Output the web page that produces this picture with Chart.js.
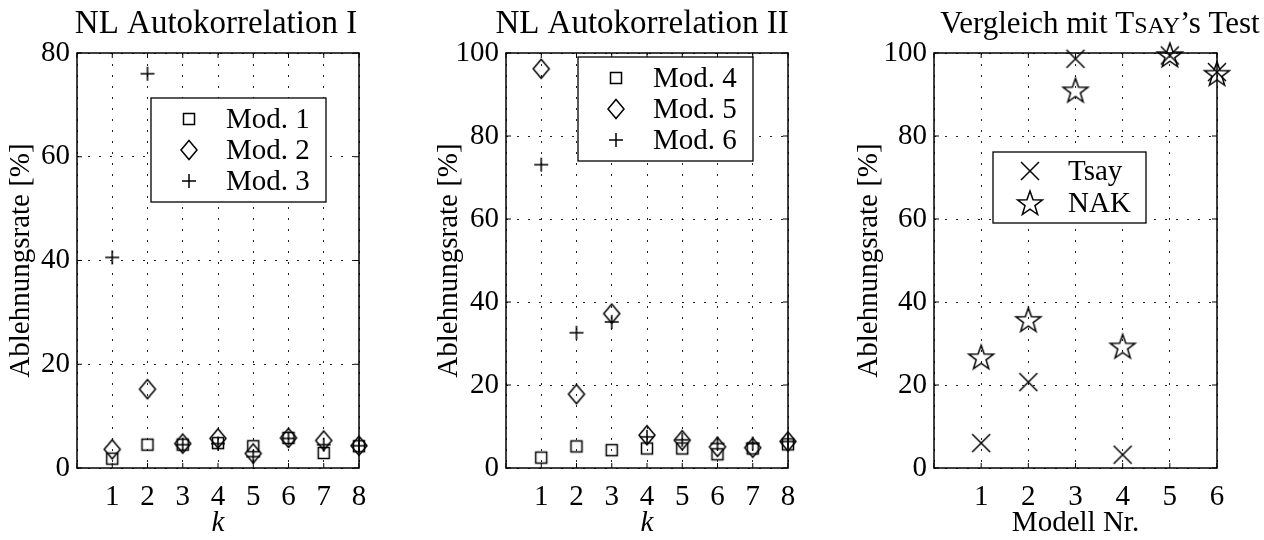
<!DOCTYPE html>
<html>
<head>
<meta charset="utf-8">
<script src="https://cdn.jsdelivr.net/npm/chart.js@4.4.1/dist/chart.umd.min.js"></script>
<style>
  body { margin: 0; background: #fff; width: 1264px; height: 540px; overflow: hidden; position: relative; }
  canvas { position: absolute; top: 0; }
</style>
</head>
<body>
<canvas id="c1" style="left:0px" width="430" height="540"></canvas>
<canvas id="c2" style="left:430px" width="420" height="540"></canvas>
<canvas id="c3" style="left:850px" width="414" height="540"></canvas>
<script>
// values
const lagsK = [1, 2, 3, 4, 5, 6, 7, 8]
const mod1 = [1.8, 4.5, 4.5, 4.8, 4.2, 5.8, 2.9, 4.2]
const mod2 = [3.6, 15.2, 4.7, 5.7, 2.8, 5.8, 5.3, 4.3]
const mod3 = [40.6, 76.0, 4.5, 4.7, 2.2, 5.7, 4.5, 4.3]
const mod4 = [2.5, 5.2, 4.3, 4.7, 4.7, 3.3, 4.7, 5.7]
const mod5 = [96.2, 17.8, 37.2, 7.9, 6.7, 5.1, 4.9, 6.4]
const mod6 = [73.1, 32.6, 35.2, 7.5, 6.8, 5.9, 5.9, 6.4]
const modelNr = [1, 2, 3, 4, 5, 6]
const tsay = [6.0, 20.7, 98.6, 3.2, 99.4, 95.4]
const nak = [26.7, 35.7, 91.0, 29.3, 99.5, 95.0]

const serif = '"Liberation Serif", "DejaVu Serif", serif'
const fs = 29

// marker glyphs drawn once into small canvases
function marker(kind) {
  let c = document.createElement('canvas')
  c.width = 30; c.height = 30
  let g = c.getContext('2d')
  g.strokeStyle = '#000'
  g.lineWidth = 1.5
  g.beginPath()
  if (kind === 'square') {
    g.rect(9.5, 9.5, 11, 11)
  } else if (kind === 'diamond') {
    g.moveTo(15, 5.5); g.lineTo(23, 15); g.lineTo(15, 24.5); g.lineTo(7, 15); g.closePath()
  } else if (kind === 'plus') {
    g.moveTo(8, 15); g.lineTo(22, 15); g.moveTo(15, 8); g.lineTo(15, 22)
  } else if (kind === 'x') {
    g.moveTo(6, 6); g.lineTo(24, 24); g.moveTo(24, 6); g.lineTo(6, 24)
  } else if (kind === 'star') {
    for (let i = 0; i < 10; ++i) {
      let r = i % 2 ? 5.2 : 13
      let a = -Math.PI / 2 + i * Math.PI / 5
      let px = 15 + r * Math.cos(a), py = 16 + r * Math.sin(a)
      if (i === 0) g.moveTo(px, py); else g.lineTo(px, py)
    }
    g.closePath()
  }
  g.stroke()
  return c
}

function ds(label, xs, ys, kind) {
  return {
    label: label,
    data: xs.map((x, i) => ({x: x, y: ys[i]})),
    pointStyle: marker(kind),
    pointRadius: 6,
    showLine: false,
    clip: false
  }
}

// box round the plot and inward tick marks
const frame = {
  id: 'frame',
  beforeDatasetsDraw(chart) {
    let {ctx, chartArea: a, scales} = chart
    ctx.save()
    ctx.strokeStyle = '#000'
    ctx.lineWidth = 1.5
    ctx.strokeRect(a.left, a.top, a.right - a.left, a.bottom - a.top)
    ctx.lineWidth = 1
    ctx.beginPath()
    scales.x.ticks.forEach(t => {
      let px = scales.x.getPixelForValue(t.value)
      ctx.moveTo(px, a.bottom); ctx.lineTo(px, a.bottom - 5)
      ctx.moveTo(px, a.top); ctx.lineTo(px, a.top + 5)
    })
    scales.y.ticks.forEach(t => {
      let py = scales.y.getPixelForValue(t.value)
      ctx.moveTo(a.left, py); ctx.lineTo(a.left + 5, py)
      ctx.moveTo(a.right, py); ctx.lineTo(a.right - 5, py)
    })
    ctx.stroke()
    ctx.restore()
  }
}

const boxLegend = {
  id: 'boxLegend',
  afterDatasetsDraw(chart, args, o) {
    let ctx = chart.ctx
    ctx.save()
    ctx.fillStyle = '#fff'
    ctx.fillRect(o.box[0], o.box[1], o.box[2] - o.box[0], o.box[3] - o.box[1])
    ctx.strokeStyle = '#000'
    ctx.lineWidth = 1.3
    ctx.strokeRect(o.box[0], o.box[1], o.box[2] - o.box[0], o.box[3] - o.box[1])
    ctx.fillStyle = '#000'
    ctx.font = fs + 'px ' + serif
    ctx.textBaseline = 'middle'
    chart.data.datasets.forEach((d, i) => {
      let img = d.pointStyle
      ctx.drawImage(img, o.markerX - img.width / 2, o.rows[i] - img.height / 2)
      ctx.fillText(d.label, o.textX, o.rows[i] + 1)
    })
    ctx.restore()
  }
}

// title with optional small-caps pieces
const headline = {
  id: 'headline',
  afterDraw(chart, args, o) {
    let ctx = chart.ctx
    ctx.save()
    ctx.fillStyle = '#000'
    ctx.textBaseline = 'alphabetic'
    let w = 0
    o.parts.forEach(p => { ctx.font = p[1] + 'px ' + serif; w += ctx.measureText(p[0]).width })
    let x = o.cx - w / 2
    o.parts.forEach(p => {
      ctx.font = p[1] + 'px ' + serif
      ctx.fillText(p[0], x, o.y)
      x += ctx.measureText(p[0]).width
    })
    ctx.restore()
  }
}

function makeChart(id, datasets, opt) {
  new Chart(document.getElementById(id), {
    type: 'scatter',
    data: {datasets: datasets},
    plugins: [frame, boxLegend, headline],
    options: {
      responsive: false,
      animation: false,
      events: [],
      layout: {padding: {left: 0, top: 53, right: opt.right, bottom: 0}},
      plugins: {
        legend: {display: false},
        tooltip: {enabled: false},
        boxLegend: opt.legend,
        headline: opt.title
      },
      scales: {
        x: {
          type: 'linear', min: 0, max: opt.xMax,
          afterFit: s => { s.height = 72 },
          ticks: {stepSize: 1, padding: 12, color: '#000', autoSkip: false, maxRotation: 0,
                  font: {family: serif, size: fs}, callback: v => v === 0 ? '' : v},
          grid: {color: '#222', lineWidth: 1, drawTicks: false},
          border: {display: false, dash: [2, 9]},
          title: {display: true, text: opt.xTitle, color: '#000', padding: {top: 0, bottom: -1},
                  font: {family: serif, size: fs, style: opt.xItalic ? 'italic' : 'normal'}}
        },
        y: {
          min: 0, max: opt.yMax,
          afterFit: s => { s.width = opt.yWidth },
          ticks: {stepSize: 20, padding: 7, color: '#000', font: {family: serif, size: fs}},
          grid: {color: '#222', lineWidth: 1, drawTicks: false},
          border: {display: false, dash: [2, 9]},
          title: {display: true, text: 'Ablehnungsrate [%]', color: '#000', padding: {top: opt.yTitlePad, bottom: 0},
                  font: {family: serif, size: fs}}
        }
      }
    }
  })
}

makeChart('c1', [
  ds('Mod. 1', lagsK, mod1, 'square'),
  ds('Mod. 2', lagsK, mod2, 'diamond'),
  ds('Mod. 3', lagsK, mod3, 'plus')
], {
  right: 71, yWidth: 77, yTitlePad: 4, xMax: 8, yMax: 80, xTitle: 'k', xItalic: true,
  legend: {box: [151, 98, 326, 202], markerX: 189, textX: 226, rows: [119, 150, 181]},
  title: {cx: 216, y: 33, parts: [['NL Autokorrelation I', 33]]}
})

makeChart('c2', [
  ds('Mod. 4', lagsK, mod4, 'square'),
  ds('Mod. 5', lagsK, mod5, 'diamond'),
  ds('Mod. 6', lagsK, mod6, 'plus')
], {
  right: 62, yWidth: 76, yTitlePad: 2, xMax: 8, yMax: 100, xTitle: 'k', xItalic: true,
  legend: {box: [148, 57, 323, 161], markerX: 186, textX: 223, rows: [78, 109, 140]},
  title: {cx: 212, y: 33, parts: [['NL Autokorrelation II', 33]]}
})

makeChart('c3', [
  ds('Tsay', modelNr, tsay, 'x'),
  ds('NAK', modelNr, nak, 'star')
], {
  right: 47, yWidth: 84, yTitlePad: 2, xMax: 6, yMax: 100, xTitle: 'Modell Nr.', xItalic: false,
  legend: {box: [143, 152, 296, 223], markerX: 180, textX: 218, rows: [171, 203]},
  title: {cx: 250, y: 33, parts: [['Vergleich mit T', 31], ['SAY', 24], ['\u2019s Test', 31]]}
})
</script>
</body>
</html>
